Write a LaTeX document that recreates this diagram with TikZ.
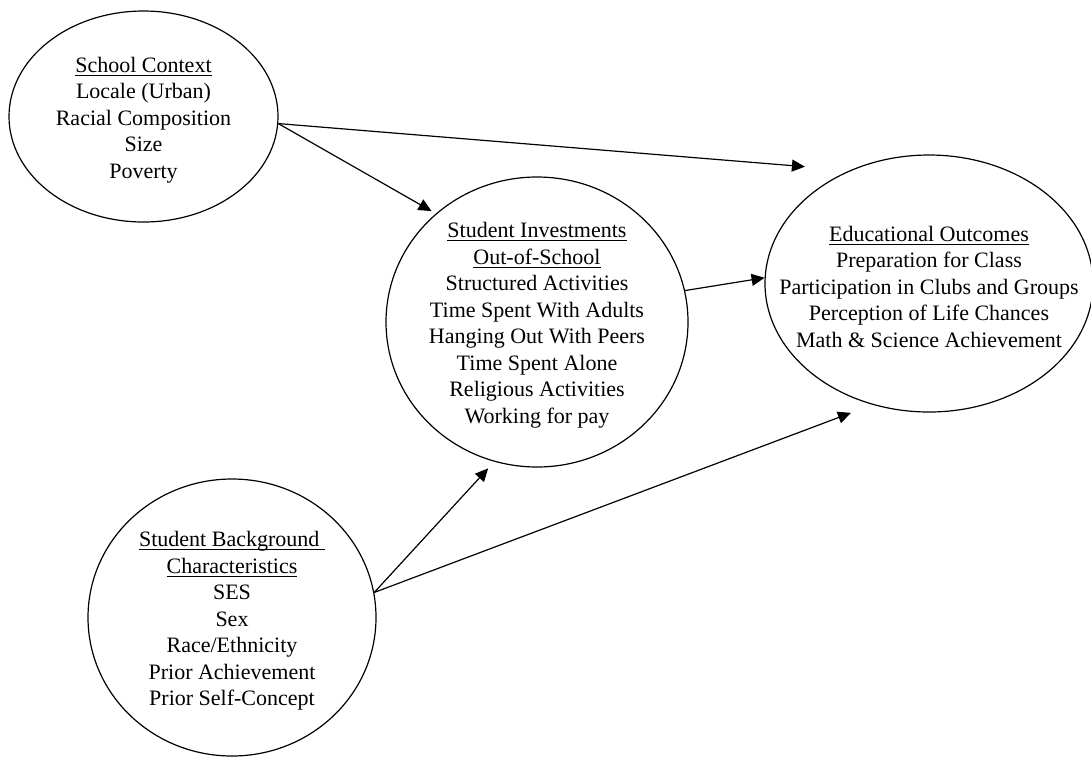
\documentclass[tikz,border=0pt]{standalone}
\usepackage{fontspec}
\setmainfont{Liberation Serif}
\usetikzlibrary{shapes.geometric,arrows.meta}
\newcommand{\heading}[1]{\underline{\smash{#1}}}

\begin{document}
\begin{tikzpicture}[x = 0.5pt, y = -0.5pt, line width = 0.6pt,
								oval/.style = {ellipse, draw, inner sep = 0pt},
								words/.style = {align = center, inner sep = 0pt, yshift = -5.5pt,
								font = \fontsize{11}{13.25}\selectfont},
								link/.style = {-{Triangle[length = 6.5pt, width = 6pt]}},
								]
				\useasboundingbox (0,0) rectangle (1091,757);

				\node [oval, minimum width = 134.5pt, minimum height = 105.5pt] (school) at (143.5,116.5) {};
				\node [oval, minimum width = 151pt, minimum height = 145pt] (invest) at (537,322) {};
				\node [oval, minimum width = 164pt, minimum height = 128.5pt] (outcome) at (929,283.5) {};
				\node [oval, minimum width = 144pt, minimum height = 138.5pt] (backgr) at (232,617.5) {};

				\node [words] (school_t) at (school) {\heading{School Context}\\ Locale (Urban)\\
				Racial Composition\\ Size\\ Poverty};
				\node [words] (invest_t) at (invest) {\heading{Student Investments}\\ \heading{Out-of-School}\\
				Structured Activities\\ Time Spent With Adults\\ Hanging Out With Peers\\
				Time Spent Alone\\ Religious Activities\\ Working for pay};
				\node [words] (outcome_t) at (outcome) {\heading{Educational Outcomes}\\ Preparation for Class\\
				Participation in Clubs and Groups\\ Perception of Life Chances\\
				Math \& Science Achievement};
				\node [words] (backgr_t) at (backgr) {\heading{Student Background\ }\\ \heading{Characteristics}\\
				SES\\ Sex\\ Race/Ethnicity\\ Prior Achievement\\ Prior Self-Concept};

				\draw [link, shorten >= 22.5pt] (school.-3) -- (outcome.125);
				\draw [link, shorten >= 2.5pt] (school.-3) -- (invest.133);
				\draw [link] (invest.12) -- (outcome.178);
				\draw [link, shorten >= 4.5pt] (backgr.10) -- (invest.-107);
				\draw [link, shorten >= 11.5pt] (backgr.10) -- (outcome.-115);
			\end{tikzpicture}
\end{document}
